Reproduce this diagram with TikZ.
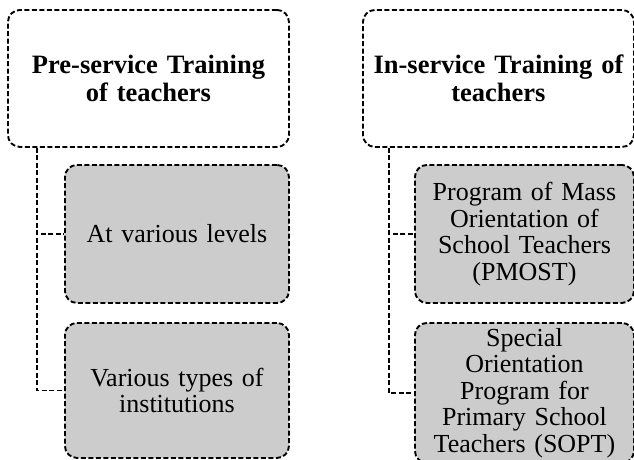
\documentclass[tikz,border=0pt]{standalone}
\usepackage{fontspec}
\setmainfont{Liberation Serif}
\definecolor{boxgray}{RGB}{204,204,204}
\tikzset{
  chartbox/.style={draw, rectangle, rounded corners=12pt, line width=1.9pt,
    dash pattern=on 5pt off 2.5pt, anchor=north west, align=center,
    inner sep=0pt},
  headbox/.style={chartbox, fill=white, font=\fontsize{26.5}{28}\selectfont\bfseries},
  subbox/.style={chartbox, fill=boxgray, font=\fontsize{26}{26.5}\selectfont},
  trunk/.style={line width=1.9pt, dash pattern=on 5pt off 2.5pt}
}
\begin{document}
\begin{tikzpicture}[x=1pt,y=1pt]
        \useasboundingbox (0,0) rectangle (634,-459);
        \node[headbox, minimum width=281, minimum height=137, text width=275] (pre) at (7,-9) {Pre-service Training\\of teachers};
        \node[subbox, minimum width=224, minimum height=138, text width=220] (levels) at (64,-164) {At various levels};
        \node[subbox, minimum width=224, minimum height=135, text width=220] (types) at (64,-322) {Various types of\\institutions};
        \node[headbox, minimum width=271, minimum height=137, text width=268] (inserv) at (362,-9) {In-service Training of\\teachers};
        \node[subbox, minimum width=219, minimum height=138, text width=215] (pmost) at (414,-164) {Program of Mass\\Orientation of\\School Teachers\\(PMOST)};
        \node[subbox, minimum width=219, minimum height=140, text width=215] (sopt) at (414,-322) {Special\\Orientation\\Program for\\Primary School\\Teachers (SOPT)};
        \coordinate (ltrunk) at ([xshift=30]pre.south west);
        \coordinate (rtrunk) at ([xshift=27]inserv.south west);
        \draw[trunk] (ltrunk) |- (levels.west);
        \draw[trunk] (ltrunk) |- (types.west);
        \draw[trunk] (rtrunk) |- (pmost.west);
        \draw[trunk] (rtrunk) |- (sopt.west);
    \end{tikzpicture}
\end{document}
